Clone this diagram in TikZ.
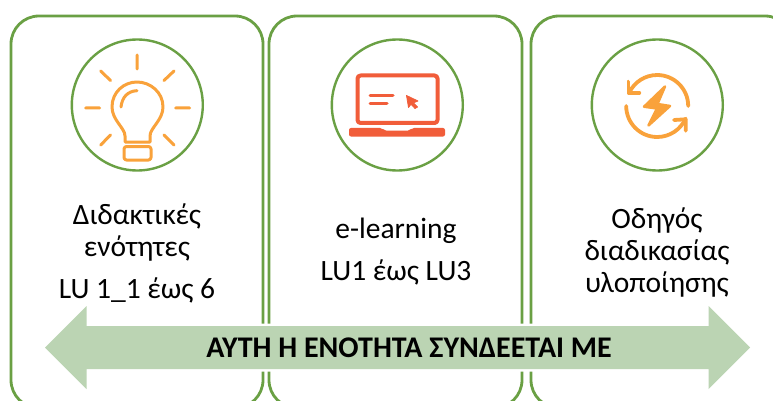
\documentclass[tikz,border=0pt]{standalone}
\usepackage{fontspec}
\setmainfont{Carlito}
\definecolor{grn}{HTML}{6AA044}
\definecolor{org}{HTML}{F9A23B}
\definecolor{redo}{HTML}{F15D3A}
\definecolor{arw}{HTML}{BBD4B3}
\tikzset{
  x=1pt,y=-1pt,
  panel/.style={draw=grn,line width=2.8pt,rounded corners=28pt,fill=white,anchor=north west,inner sep=0pt,outer sep=0pt},
  ring/.style={draw=grn,line width=2.4pt,circle,minimum size=131pt,inner sep=0pt},
  lbl/.style={font=\fontsize{29.5}{34}\selectfont,anchor=base,inner sep=0pt,text=black},
  ico/.style={draw=org,line width=3pt,line cap=round,line join=round},
  lap/.style={draw=redo,line width=3pt,line join=round,line cap=round},
}
\begin{document}
\begin{tikzpicture}
\useasboundingbox (0,0) rectangle (773,401);
\clip (0,0) rectangle (773,401);
% panels
\node[panel,minimum width=252pt,minimum height=392pt] (p1) at (11,16) {};
\node[panel,minimum width=253pt,minimum height=392pt] (p2) at (269,16) {};
\node[panel,minimum width=262pt,minimum height=392pt] (p3) at (531,16) {};
% rings
\node[ring] (r1) at (137.3,105) {};
\node[ring] (r2) at (397.3,105) {};
\node[ring] (r3) at (657.3,105) {};
% bulb
\draw[ico] (137,55)--(137,69) (100.7,71)--(110.5,80.5) (174,71)--(164,80.5)
  (85.5,108)--(99.5,108) (175.5,108)--(189.5,108) (100.7,145)--(110.5,135) (174,145)--(164,135);
\draw[ico] (125,142) -- (125,136) .. controls (125,128) and (112,120) .. (112,107)
  .. controls (112,92) and (124,82) .. (137,82) .. controls (150,82) and (163,92) .. (163,107)
  .. controls (163,120) and (150,128) .. (150,136) -- (150,142) -- cycle;
\draw[ico] (121,107) .. controls (122,97) and (128,91) .. (137,90.7);
\draw[ico,rounded corners=2.5pt] (124,146.5) rectangle (151,160);
% laptop
\draw[lap,rounded corners=3pt,line width=4pt] (357.5,123) -- (357.5,75.5) -- (437.5,75.5) -- (437.5,123) -- cycle;
\fill[redo,rounded corners=2pt] (349,128) -- (382,128) -- (384,130.5) -- (410,130.5) -- (412,128) -- (445,128) -- (445,136.5) -- (349,136.5) -- cycle;
\draw[lap] (370,95.3)--(393,95.3) (370,103.5)--(387,103.5);
\fill[redo,draw=redo,line width=.8pt,line join=round] (406.5,95.5) -- (418,101) -- (413.5,102.8) -- (417.5,107) -- (415,108.5) -- (411,104.2) -- (408.5,107.5) -- cycle;
% sync icon
\draw[ico,line width=3.8pt] (688.2,106) arc (0:-155:31);
\draw[ico,line width=3.8pt] (628.4,81.7)--(628.4,92.7)--(639.3,92.7);
\draw[ico,line width=3.8pt] (626.2,106) arc (-180:-336:31);
\draw[ico,line width=3.8pt] (674,120)--(685.7,119.3)--(685.7,130.7);
\fill[org,draw=org,line width=2.5pt,line join=round] (665,86.5)--(644,106.7)--(657,108.5)--(648.5,125.5)--(670,106)--(657.5,104)--cycle;
% texts
\node[lbl] (t1a) at (137,224) {Διδακτικές};
\node[lbl] (t1b) at (137,256) {ενότητες};
\node[lbl] (t1c) at (137,298) {LU 1\_1 έως 6};
\node[lbl] (t2a) at (396,238) {e-learning};
\node[lbl] (t2b) at (396,280) {LU1 έως LU3};
\node[lbl] (t3a) at (657,228) {Οδηγός};
\node[lbl] (t3b) at (657,260) {διαδικασίας};
\node[lbl] (t3c) at (657,292) {υλοποίησης};
% double arrow
\fill[arw,preaction={draw=white,line width=5pt,line join=miter}] (45,347.5) -- (86.5,306) -- (86.5,326) -- (708.5,326) -- (708.5,306) -- (750,347.5)
  -- (708.5,389) -- (708.5,369) -- (86.5,369) -- (86.5,389) -- cycle;
\node[font=\bfseries\fontsize{30}{34}\selectfont,text=black,inner sep=0pt] (al) at (409,348) {ΑΥΤΗ Η ΕΝΟΤΗΤΑ ΣΥΝΔΕΕΤΑΙ ΜΕ};
\end{tikzpicture}
\end{document}
